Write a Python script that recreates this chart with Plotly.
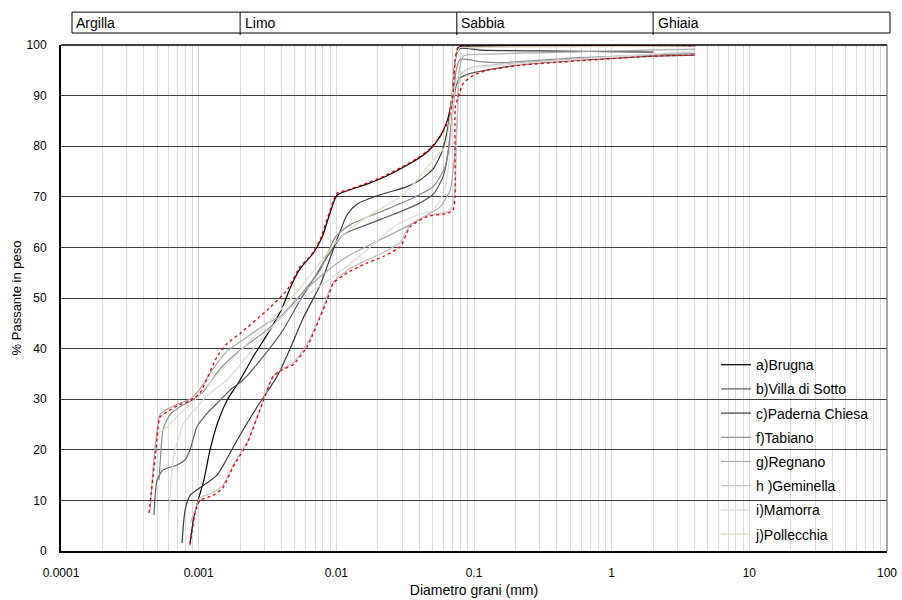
import plotly.graph_objects as go
import math

# ---------------- data (diameter in mm, % passing) ----------------
env_hi_x = [0.000436, 0.000490, 0.000524, 0.000589, 0.000697, 0.000866, 0.00102, 0.00136, 0.00161, 0.00200,
            0.00314, 0.00439, 0.00546, 0.00645, 0.00762, 0.0101, 0.0120, 0.0167, 0.0219, 0.0291,
            0.0387, 0.0480, 0.0568, 0.0639, 0.0694, 0.0730, 0.0768, 0.0939, 4.05]
env_hi_y = [7.5, 20, 26.5, 27.5, 28.7, 29.7, 31.2, 38.4, 41, 43,
            47.6, 51.6, 56.2, 58.2, 61.5, 70.7, 71.3, 72.7, 74, 75.7,
            77.6, 79.5, 81.9, 84.5, 88.5, 97, 99.7, 99.9, 99.9]

env_lo_x = [0.000866, 0.000942, 0.00102, 0.00127, 0.00150, 0.00178, 0.00225, 0.00279, 0.00347, 0.00404,
            0.00485, 0.00614, 0.00857, 0.00948, 0.0120, 0.0167, 0.0219, 0.0291, 0.0344, 0.0457,
            0.0639, 0.0706, 0.0728, 0.0732, 0.0768, 0.0835, 0.0987, 0.125, 0.217, 0.591, 2.01, 4.05]
env_lo_y = [1.2, 7.5, 10, 11, 12.5, 16.6, 21.3, 27.9, 34.5, 35.8,
            36.8, 40.4, 49.6, 52.9, 55, 56.9, 58.2, 60.1, 64.1, 66.1,
            66.7, 67.4, 70, 87.8, 89.8, 92.4, 94, 95, 96, 96.9, 97.8, 98]

brugna_x = [0.000866, 0.000926, 0.000990, 0.00109, 0.00121, 0.00136, 0.00161, 0.00200, 0.00249, 0.00330,
            0.00404, 0.00462, 0.00546, 0.00678, 0.00788, 0.0101, 0.0120, 0.0167, 0.0219, 0.0291,
            0.0387, 0.0480, 0.0568, 0.0639, 0.0694, 0.0730, 0.0781, 0.0939, 4.05]
brugna_y = [1.5, 7, 10, 14, 20, 25, 29.8, 33.8, 38.4, 43.7,
            48, 52, 55.8, 58.8, 62, 70.3, 71.2, 72.5, 73.8, 75.5,
            77.4, 79.4, 82, 85, 90, 97, 99.6, 99.8, 99.8]

villa_x = [0.000474, 0.000498, 0.000551, 0.000697, 0.000796, 0.000866, 0.000974, 0.00115, 0.00136, 0.00169,
           0.00210, 0.00294, 0.00411, 0.00546, 0.00678, 0.00829, 0.0112, 0.0167, 0.0259, 0.0387,
           0.0505, 0.0597, 0.0660, 0.0706, 0.0742, 0.0794, 0.0939, 0.125, 0.217, 0.591, 2.01, 4.05]
villa_y = [7.1, 14, 16, 17, 18, 20, 24.6, 27.2, 29.2, 31.8,
           33.8, 38.4, 43.7, 49.6, 53.6, 57.5, 62.5, 64.5, 66.5, 68.5,
           70.5, 74, 80, 88, 92, 93.5, 94.4, 95.1, 96.1, 97, 97.8, 98]

paderna_x = [0.000757, 0.000796, 0.000866, 0.00102, 0.00136, 0.00190, 0.00266, 0.00371, 0.00462, 0.00574,
             0.00762, 0.00948, 0.0120, 0.0142, 0.0208, 0.0327, 0.0406, 0.0505, 0.0587, 0.0649,
             0.0694, 0.0742, 0.0794, 0.111, 0.423, 2.01]
paderna_y = [1.6, 8, 11, 12.5, 15, 21.9, 28.5, 34.5, 40, 46,
             52.5, 59.5, 66.5, 68.6, 70.4, 72, 73.3, 75.5, 79, 84,
             90, 98, 99.3, 99, 98.8, 98.6]

tabiano_x = [0.000515, 0.000533, 0.000551, 0.000620, 0.000733, 0.000895, 0.00108, 0.00143, 0.00200, 0.00314,
             0.00425, 0.00546, 0.00762, 0.00980, 0.0126, 0.0208, 0.0344, 0.0505, 0.0618, 0.0694,
             0.0742, 0.0794, 0.111, 0.155, 0.591, 4.05]
tabiano_y = [14, 20, 24, 27, 28.5, 29.8, 31.5, 36, 39.7, 43.7,
             47, 50.5, 55.5, 62, 64.5, 67, 69.5, 72, 76, 86,
             95, 97.2, 96.7, 96.5, 97.5, 98.3]

regnano_x = [0.000443, 0.000466, 0.000490, 0.000524, 0.000589, 0.000697, 0.000866, 0.00102, 0.00127, 0.00161,
             0.00217, 0.00314, 0.00390, 0.00546, 0.00762, 0.0120, 0.0208, 0.0362, 0.0480, 0.0568,
             0.0671, 0.0706, 0.0755, 0.0781, 0.0835, 0.131, 4.05]
regnano_y = [8, 16, 22, 27, 28, 29, 30, 32, 36, 39.5,
             42, 45, 46.3, 50.5, 54.2, 58.2, 61.5, 64.8, 66.8, 68,
             71.3, 75.3, 85, 95, 97.8, 98.2, 99.2]

geminella_x = [0.000866, 0.000942, 0.00102, 0.00127, 0.00150, 0.00178, 0.00225, 0.00279, 0.00347, 0.00404,
               0.00485, 0.00614, 0.00762, 0.00948, 0.0120, 0.0167, 0.0219, 0.0291, 0.0344, 0.0457,
               0.0639, 0.0694, 0.0730, 0.0755, 0.0794, 0.0939, 0.217, 4.05]
geminella_y = [5.5, 8, 10.5, 11.5, 13, 17, 21.5, 28, 34.5, 36,
               37.2, 41, 46.5, 53, 55.5, 57.5, 59, 61, 64.5, 66.3,
               67, 68, 72, 85, 94, 95.5, 96.5, 98.7]

mamorra_x = [0.000609, 0.000630, 0.000663, 0.000770, 0.000974, 0.00121, 0.00161, 0.00217, 0.00309, 0.00462,
             0.00645, 0.00948, 0.0167, 0.0259, 0.0387, 0.0505, 0.0597, 0.0649, 0.0694, 0.0730,
             0.0794, 0.111, 4.05]
mamorra_y = [7.5, 14, 19, 25, 28.5, 31.2, 33.8, 38, 43, 48,
             51, 54.2, 59.5, 64, 66.4, 67.4, 70.7, 75.3, 85, 92,
             94.5, 95.5, 98.8]

pollecchia_x = [0.000498, 0.000524, 0.000589, 0.000733, 0.000895, 0.00108, 0.00143, 0.00200, 0.00279, 0.00390,
                0.00546, 0.00762, 0.0107, 0.0167, 0.0291, 0.0406, 0.0505, 0.0618, 0.0694, 0.0742,
                0.0794, 0.0939, 4.05]
pollecchia_y = [22, 23.5, 24.5, 27.2, 29.2, 31.8, 35.5, 39.5, 43.5, 47.5,
                52, 57, 62, 66, 70, 74, 77.3, 80, 90, 98,
                99.5, 99.5, 99.8]

series_names = ["a)Brugna", "b)Villa di Sotto", "c)Paderna Chiesa", "f)Tabiano",
                "g)Regnano", "h )Geminella", "i)Mamorra", "j)Pollecchia"]
series_x = [brugna_x, villa_x, paderna_x, tabiano_x, regnano_x, geminella_x, mamorra_x, pollecchia_x]
series_y = [brugna_y, villa_y, paderna_y, tabiano_y, regnano_y, geminella_y, mamorra_y, pollecchia_y]
series_colors = ["#000000", "#5c5c5c", "#3a3a3a", "#8a8a8a", "#a9a9a9", "#c2c2c2", "#dcdcdc", "#e2dec6"]

x_tick_labels = ["0.0001", "0.001", "0.01", "0.1", "1", "10", "100"]
band_labels = ["Argilla", "Limo", "Sabbia", "Ghiaia"]
band_bounds_mm = [0.002, 0.075, 2.0]

FONT = "Liberation Sans, Arial, sans-serif"

fig = go.Figure()

for i, (nm, xs, ys, col) in enumerate(zip(series_names, series_x, series_y, series_colors)):
    fig.add_trace(go.Scatter(
        x=xs, y=ys, mode="lines", name=nm, legendgroup=f"g{i}",
        line=dict(color=col, width=1.2, shape="spline", smoothing=0.6),
    ))

for xs, ys in [(env_hi_x, env_hi_y), (env_lo_x, env_lo_y)]:
    fig.add_trace(go.Scatter(
        x=xs, y=ys, mode="lines", showlegend=False,
        line=dict(color="#e00000", width=1.3, dash="3px,3px", shape="spline", smoothing=0.5),
    ))

# tick positions: every 1..9 x 10^k
tickvals, ticktext = [], []
for k in range(-4, 3):
    for m in range(1, 10):
        if k == 2 and m > 1:
            break
        tickvals.append(m * 10.0 ** k)
        ticktext.append(x_tick_labels[k + 4] if m == 1 else "")

fig.update_layout(
    width=902, height=600,
    margin=dict(l=61, r=15, t=45, b=49),
    paper_bgcolor="white", plot_bgcolor="white",
    font=dict(family=FONT, size=12, color="#000000"),
    showlegend=True,
    legend=dict(x=0.793, y=0.399, xanchor="left", yanchor="top",
                bgcolor="rgba(0,0,0,0)", font=dict(size=14, family=FONT),
                tracegroupgap=3, itemwidth=30),
    xaxis=dict(type="log", range=[-4, 2], tickmode="array", tickvals=tickvals, ticktext=ticktext,
               showgrid=True, gridcolor="#d9d9d9", gridwidth=1, automargin=False,
               showline=True, linecolor="#000000", linewidth=2, ticks="",
               ticklabelstandoff=10, tickfont=dict(size=12),
               title=dict(text="Diametro grani (mm)", font=dict(size=14), standoff=6),
               zeroline=False),
    yaxis=dict(range=[0, 100], dtick=10, tick0=0, showgrid=True, gridcolor="#3c3c3c", gridwidth=1,
               automargin=False,
               showline=True, linecolor="#000000", linewidth=2, ticks="",
               ticklabelstandoff=10, tickfont=dict(size=12),
               title=dict(text="% Passante in peso", font=dict(size=13), standoff=2),
               zeroline=False),
)

# frame top / right
fig.add_shape(type="line", xref="paper", yref="paper", x0=0, x1=1, y0=1, y1=1,
              line=dict(color="#000000", width=1.5))
fig.add_shape(type="line", xref="paper", yref="paper", x0=1, x1=1, y0=0, y1=1,
              line=dict(color="#555555", width=1))

# top classification band
def xp(v):
    return (math.log10(v) + 4) / 6.0

band_y0, band_y1 = 1.0237, 1.065
band_x0, band_x1 = 0.0133, 1.0036
fig.add_shape(type="rect", xref="paper", yref="paper", x0=band_x0, x1=band_x1, y0=band_y0, y1=band_y1,
              line=dict(color="#000000", width=1), fillcolor="rgba(0,0,0,0)")
edges = [band_x0] + [xp(b) for b in band_bounds_mm]
for b in band_bounds_mm:
    fig.add_shape(type="line", xref="paper", yref="paper", x0=xp(b), x1=xp(b), y0=band_y0 - 0.004, y1=band_y1,
                  line=dict(color="#000000", width=1))
for lbl, ex in zip(band_labels, edges):
    fig.add_annotation(text=lbl, xref="paper", yref="paper", x=ex + 0.003, y=(band_y0 + band_y1) / 2,
                       xanchor="left", yanchor="middle", showarrow=False,
                       font=dict(size=14, family=FONT, color="#000000"))

fig.write_html("out.html")
